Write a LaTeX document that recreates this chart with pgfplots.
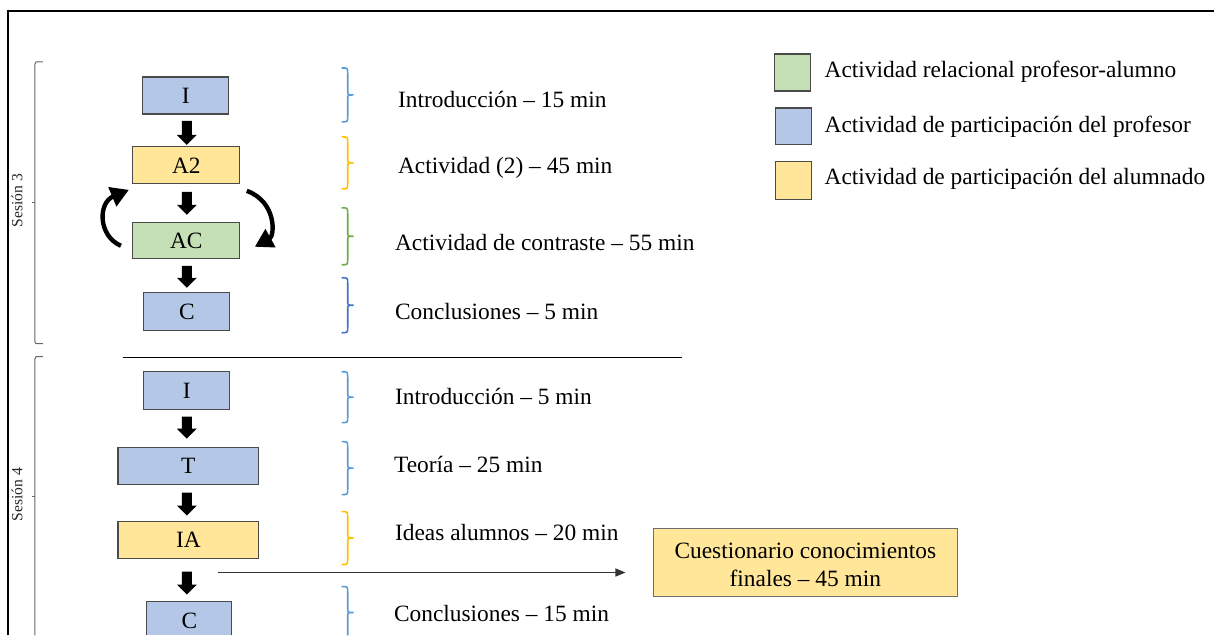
\documentclass[border=0pt]{standalone}
\usepackage{fontspec}
\setmainfont{Liberation Serif}
\usepackage{pgfplots}
\pgfplotsset{compat=1.18}
\usetikzlibrary{arrows.meta}
\definecolor{bfill}{HTML}{B4C7E7}
\definecolor{yfill}{HTML}{FFE699}
\definecolor{gfill}{HTML}{C5E0B4}
\definecolor{bord}{HTML}{4A4A4A}
\definecolor{brlb}{HTML}{5B9BD5}
\definecolor{brdb}{HTML}{4472C4}
\definecolor{bry}{HTML}{FFC000}
\definecolor{brg}{HTML}{70AD47}
\newcommand{\mainfs}{\fontsize{11.7}{14}\selectfont}
% block arrow: cx, ytop, ybot
\newcommand{\blockarrow}[3]{%
 \fill[black] (axis cs:{#1-5},{#2}) -- (axis cs:{#1+5},{#2}) -- (axis cs:{#1+5},{#3-10}) -- (axis cs:{#1+10},{#3-10}) -- (axis cs:{#1},{#3}) -- (axis cs:{#1-10},{#3-10}) -- (axis cs:{#1-5},{#3-10}) -- cycle;}
% brace: color, ytop, ybot
\newcommand{\mybrace}[3]{%
 \draw[#1, line width=0.8pt] (axis cs:342,{#2}) .. controls (axis cs:348,{#2}) .. (axis cs:348,{#2+6}) -- (axis cs:348,{(#2+#3)/2-4}) .. controls (axis cs:348,{(#2+#3)/2}) .. (axis cs:354,{(#2+#3)/2}) .. controls (axis cs:348,{(#2+#3)/2}) .. (axis cs:348,{(#2+#3)/2+4}) -- (axis cs:348,{#3-6}) .. controls (axis cs:348,{#3}) .. (axis cs:342,{#3});}
\newcommand{\boxnode}[6]{% x1,y1,x2,y2,fill,label
 \draw[fill=#5, draw=bord, line width=0.6pt] (axis cs:#1,#2) rectangle (axis cs:#3,#4);
 \node[font=\mainfs] at (axis cs:{(#1+#3)/2},{(#2+#4)/2}) {#6};}
\begin{document}
\begin{tikzpicture}
\begin{axis}[scale only axis, width=607.5pt, height=318pt,
  xmin=0, xmax=1215, ymin=0, ymax=636, y dir=reverse,
  hide axis, clip=false]
\path (axis cs:0,0) rectangle (axis cs:1215,636);
% frame
\draw[black, line width=1pt] (axis cs:8,636) -- (axis cs:8,11) -- (axis cs:1215,11);
% session brackets
\draw[gray!80!black, line width=0.5pt] (axis cs:43,62) -- (axis cs:36,62) -- (axis cs:35,64) -- (axis cs:35,342) -- (axis cs:36,344) -- (axis cs:43,344);
\draw[gray!80!black, line width=0.5pt] (axis cs:35,203) -- (axis cs:32,203);
\node[rotate=90, font=\fontsize{7.8}{9}\selectfont, text=black!85] at (axis cs:17,201) {Sesión 3};
\draw[gray!80!black, line width=0.5pt] (axis cs:43,357) -- (axis cs:36,357) -- (axis cs:35,359) -- (axis cs:35,636);
\draw[gray!80!black, line width=0.5pt] (axis cs:35,497) -- (axis cs:32,497);
\node[rotate=90, font=\fontsize{7.8}{9}\selectfont, text=black!85] at (axis cs:17,495) {Sesión 4};
% session 3 boxes
\boxnode{143}{77}{229}{114}{bfill}{I}
\blockarrow{187}{121}{145}
\boxnode{133}{147}{240}{184}{yfill}{A2}
\blockarrow{187}{192}{215}
\boxnode{133}{223}{240}{259}{gfill}{AC}
\blockarrow{187}{266}{288}
\boxnode{144}{293}{230}{331}{bfill}{C}
% curved arrows
\draw[black, line width=2.2pt, -{Triangle[length=9pt,width=10pt]}] (axis cs:121,246) .. controls (axis cs:98,236) and (axis cs:98,203) .. (axis cs:129,190);
\draw[black, line width=2.2pt, -{Triangle[length=9pt,width=10pt]}] (axis cs:247,191) .. controls (axis cs:277,202) and (axis cs:275,236) .. (axis cs:255,247);
% separator
\draw[black, line width=0.5pt] (axis cs:123,358) -- (axis cs:683,358);
% session 4 boxes
\boxnode{144}{372}{230}{410}{bfill}{I}
\blockarrow{187}{417}{439}
\boxnode{118}{448}{259}{485}{bfill}{T}
\blockarrow{187}{493}{516}
\boxnode{118}{522}{259}{559}{yfill}{IA}
\blockarrow{187}{572}{595}
\fill[bfill] (axis cs:147,602) rectangle (axis cs:232,636);
\draw[bord, line width=0.6pt] (axis cs:147,636) -- (axis cs:147,602) -- (axis cs:232,602) -- (axis cs:232,636);
\node[font=\mainfs] at (axis cs:189.5,621) {C};
% horizontal arrow
\draw[black!80, line width=0.6pt, -{Triangle[length=5pt,width=4pt]}] (axis cs:218,573) -- (axis cs:626,573);
% braces
\mybrace{brlb}{68}{122}
\mybrace{bry}{137}{189}
\mybrace{brg}{208}{265}
\mybrace{brdb}{278}{333}
\mybrace{brlb}{372}{423}
\mybrace{brlb}{442}{495}
\mybrace{bry}{512}{565}
\draw[brlb, line width=0.8pt] (axis cs:342,587) .. controls (axis cs:348,587) .. (axis cs:348,593) -- (axis cs:348,609) .. controls (axis cs:348,613) .. (axis cs:354,613) .. controls (axis cs:348,613) .. (axis cs:348,617) -- (axis cs:348,636);
% texts
\begin{scope}[every node/.style={anchor=west, inner sep=0pt, font=\mainfs}]
\node at (axis cs:398,100) {Introducción – 15 min};
\node at (axis cs:398,168) {Actividad (2) – 45 min};
\node at (axis cs:395,243) {Actividad de contraste – 55 min};
\node at (axis cs:395,312) {Conclusiones – 5 min};
\node at (axis cs:395,397) {Introducción – 5 min};
\node at (axis cs:394,465) {Teoría – 25 min};
\node at (axis cs:395,533) {Ideas alumnos – 20 min};
\node at (axis cs:394,614) {Conclusiones – 15 min};
% legend
\node at (axis cs:825,72) {Actividad relacional profesor-alumno};
\node at (axis cs:825,127) {Actividad de participación del profesor};
\node at (axis cs:825,179) {Actividad de participación del alumnado};
\end{scope}
\draw[fill=gfill, draw=bord, line width=0.6pt] (axis cs:775,54) rectangle (axis cs:811,91);
\draw[fill=bfill, draw=bord, line width=0.6pt] (axis cs:776,108) rectangle (axis cs:812,145);
\draw[fill=yfill, draw=bord, line width=0.6pt] (axis cs:776,162) rectangle (axis cs:812,200);
% cuestionario box
\draw[fill=yfill, draw=bord!80, line width=0.6pt] (axis cs:654,529) rectangle (axis cs:958,597);
\node[align=center, font=\fontsize{11.7}{14}\selectfont] at (axis cs:806,565) {Cuestionario conocimientos\\finales – 45 min};
\end{axis}
\end{tikzpicture}
\end{document}
